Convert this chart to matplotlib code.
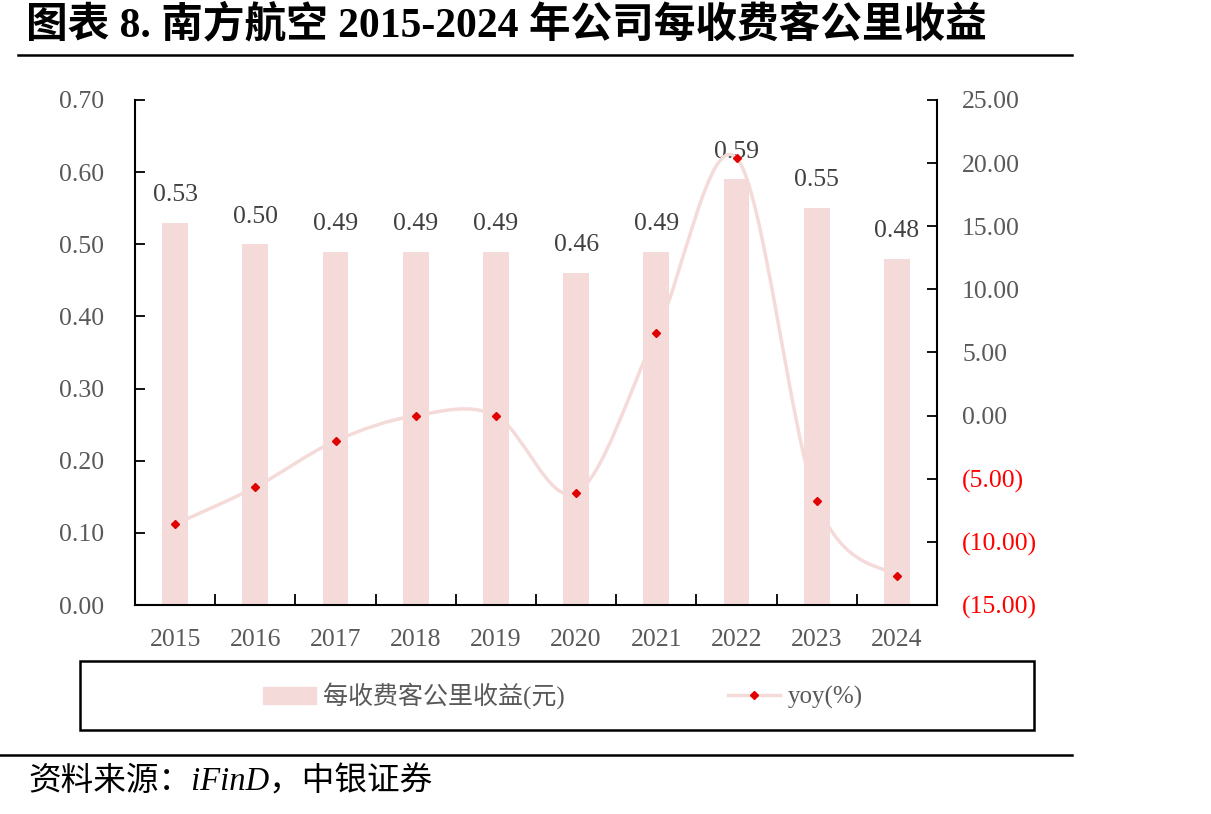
import numpy as np
import matplotlib.pyplot as plt
from matplotlib.path import Path
from matplotlib.patches import PathPatch, Rectangle
from matplotlib.lines import Line2D
from matplotlib.ticker import FuncFormatter

plt.rcParams['font.family'] = ['Liberation Serif', 'Noto Sans CJK SC']

years = ['2015', '2016', '2017', '2018', '2019', '2020', '2021', '2022', '2023', '2024']
revenue = [0.53, 0.50, 0.49, 0.49, 0.49, 0.46, 0.49, 0.59, 0.55, 0.48]
yoy = [-8.6, -5.66, -2.0, 0.0, 0.0, -6.12, 6.52, 20.41, -6.78, -12.73]

BAR_C = '#F5DADA'
DOT_C = '#E00000'
TXT_C = '#595959'

fig = plt.figure(figsize=(12.11, 8.14), dpi=100)
ax = fig.add_axes([135 / 1211, 1 - 605 / 814, 802 / 1211, 505 / 814])
ax2 = ax.twinx()

x = np.arange(len(years))
ax.bar(x, revenue, width=0.32, color=BAR_C, zorder=2)
for xi, v in zip(x, revenue):
    ax.annotate(f'{v:.2f}', (xi, v), xytext=(0, 20), textcoords='offset points',
                ha='center', va='center', fontsize=18.5, color='#404040')

ax.set_xlim(-0.5, len(years) - 0.5)
ax.set_ylim(0, 0.7)
ax.set_yticks(np.arange(0, 0.71, 0.1))
ax.yaxis.set_major_formatter(FuncFormatter(lambda v, p: f'{v:.2f}'))
ax.set_xticks(np.arange(-0.5, len(years), 1))
ax.set_xticklabels([])
ax.set_xticks(x, minor=True)
ax.set_xticklabels(years, minor=True)
ax.tick_params(axis='x', which='major', direction='in', length=8, width=1.3)
ax.tick_params(axis='x', which='minor', length=0, pad=17, labelsize=18.5, labelcolor=TXT_C)
ax.tick_params(axis='y', direction='in', length=7, width=1.3, pad=22, labelsize=18.5, labelcolor=TXT_C)
ax.spines['top'].set_visible(False)
ax.spines['right'].set_visible(False)
for s in ['left', 'bottom']:
    ax.spines[s].set_linewidth(1.5)

# smooth line through yoy points (Catmull-Rom style bezier, like Excel)
pts = np.column_stack([x, yoy]).astype(float)
verts = [tuple(pts[0])]
codes = [Path.MOVETO]
n = len(pts)
for i in range(n - 1):
    p0 = pts[max(i - 1, 0)]
    p1 = pts[i]
    p2 = pts[i + 1]
    p3 = pts[min(i + 2, n - 1)]
    c1 = p1 + (p2 - p0) / 6
    c2 = p2 - (p3 - p1) / 6
    verts += [tuple(c1), tuple(c2), tuple(p2)]
    codes += [Path.CURVE4] * 3
ax2.add_patch(PathPatch(Path(verts, codes), facecolor='none', edgecolor=BAR_C, lw=2.5, zorder=1))
ax2.plot(x, yoy, linestyle='none', marker='D', markersize=4.5, color=DOT_C, zorder=3)

ax2.set_ylim(-15, 25)
ax2.set_yticks(np.arange(-15, 26, 5))
ax2.yaxis.set_major_formatter(FuncFormatter(lambda v, p: f'({abs(v):.2f})' if v < 0 else f'{v:.2f}'))
ax2.tick_params(axis='y', direction='in', length=7, width=1.3, pad=18, labelsize=18.5, labelcolor=TXT_C)
for lbl, v in zip(ax2.get_yticklabels(), ax2.get_yticks()):
    if v < 0:
        lbl.set_color('red')
ax2.spines['top'].set_visible(False)
ax2.spines['left'].set_visible(False)
ax2.spines['bottom'].set_visible(False)
ax2.spines['right'].set_linewidth(1.5)

# title and rules
fig.text(26 / 1211, 1 - 25 / 814, '图表 8. 南方航空 2015-2024 年公司每收费客公里收益',
         fontsize=30, fontweight='bold', va='center', ha='left')
fig.add_artist(Line2D([18 / 1211, 1072 / 1211], [1 - 55 / 814] * 2, color='black', lw=1.8))
fig.add_artist(Line2D([0, 1072 / 1211], [1 - 755 / 814] * 2, color='black', lw=1.8))
fig.text(28 / 1211, 1 - 782 / 814, '资料来源：iFinD，中银证券', fontsize=23.5,
         style='italic', va='center', ha='left')

# legend box
fig.add_artist(Rectangle((80 / 1211, 1 - 730 / 814), 954 / 1211, 69 / 814,
                         transform=fig.transFigure, fill=False, edgecolor='black', lw=1.8))
handles = [Rectangle((0, 0), 1, 1, color=BAR_C),
           Line2D([], [], color=BAR_C, lw=2.5, marker='D', markersize=4.5,
                  markerfacecolor=DOT_C, markeredgecolor=DOT_C)]
fig.legend(handles, ['每收费客公里收益(元)', 'yoy(%)'], loc='center',
           bbox_to_anchor=(563 / 1211, 1 - 696 / 814), ncol=2, frameon=False,
           fontsize=18, labelcolor=TXT_C, handlelength=2.1, handletextpad=0.3,
           columnspacing=6.5)

plt.savefig('out.png', dpi=100)
